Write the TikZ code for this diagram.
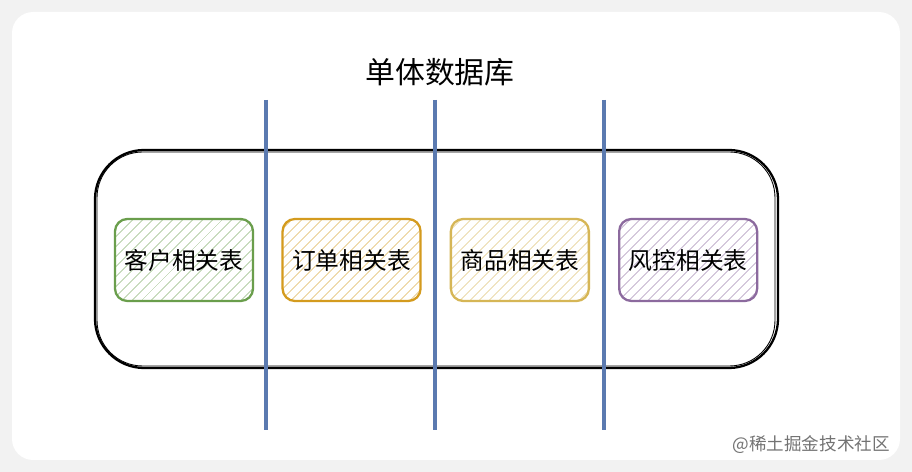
\documentclass[tikz,border=0pt]{standalone}
\usepackage{fontspec}
\setmainfont{Noto Sans CJK SC}
\usepackage{xcolor}
\usepackage{tikz}
\usetikzlibrary{positioning,patterns.meta}

\definecolor{cardbg}{HTML}{F2F2F2}
\definecolor{sepblue}{HTML}{5B7AB0}
\definecolor{kgreen}{HTML}{6A9E4C}
\definecolor{korange}{HTML}{D49B1E}
\definecolor{kyellow}{HTML}{D6B656}
\definecolor{kpurple}{HTML}{8C6A9E}

\begin{document}
\begin{tikzpicture}[node distance=0.56cm,
  tbl/.style={rectangle,rounded corners=7pt,line width=1.3pt,minimum width=2.76cm,minimum height=1.64cm,font=\fontsize{13.5}{16}\selectfont},
  hatch/.style={pattern={Lines[angle=45,distance=4pt,line width=0.5pt]},pattern color=#1!55}]
 % background and card
 \fill[cardbg] (0,0) rectangle (18.24,9.44);
 \fill[white,rounded corners=12pt] (0.24,0.24) rectangle (18.0,9.2);
 \useasboundingbox (0,0) rectangle (18.24,9.44);

 \node[font=\fontsize{17}{20}\selectfont] (title) at (8.8,8.0) {单体数据库};
 \draw[line width=1.3pt,rounded corners=28pt] (1.9,2.08) rectangle (15.56,6.44);
 \draw[line width=0.5pt,rounded corners=26pt] (1.94,2.12) rectangle (15.5,6.40);

 \node[tbl,draw=kgreen,hatch=kgreen] (cust) at (3.68,4.24) {客户相关表};
 \node[tbl,draw=korange,hatch=korange] (order) [right = of cust] {订单相关表};
 \node[tbl,draw=kyellow,hatch=kyellow] (goods) [right = of order] {商品相关表};
 \node[tbl,draw=kpurple,hatch=kpurple] (risk) [right = of goods] {风控相关表};

 % separators
 \foreach \x in {5.32,8.70,12.08}
  \draw[sepblue,line width=2.4pt] (\x,7.44) -- (\x,0.84);

 \node[anchor=east,text=black!55,font=\fontsize{10}{12}\selectfont] (mark) at (17.92,0.54) {@稀土掘金技术社区};
\end{tikzpicture}
\end{document}
